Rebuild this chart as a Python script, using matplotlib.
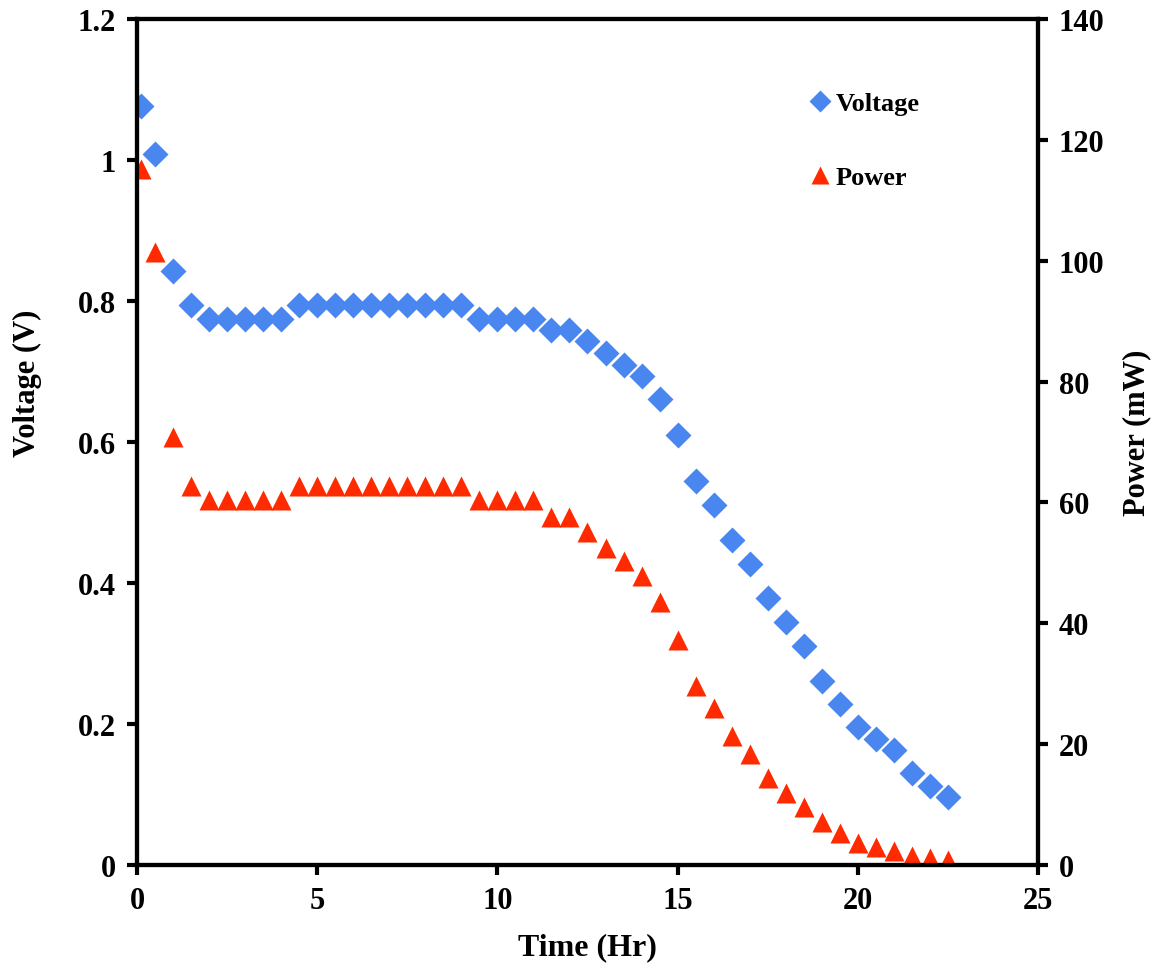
import numpy as np
import matplotlib
matplotlib.use('Agg')
import matplotlib.pyplot as plt

plt.rcParams['font.family'] = ['Liberation Serif', 'DejaVu Serif']
plt.rcParams['font.weight'] = 'bold'

# time (hr)
time = [0.1, 0.5, 1, 1.5, 2, 2.5, 3, 3.5, 4, 4.5, 5, 5.5, 6, 6.5, 7, 7.5, 8, 8.5, 9,
        9.5, 10, 10.5, 11, 11.5, 12, 12.5, 13, 13.5, 14, 14.5, 15, 15.5, 16, 16.5,
        17, 17.5, 18, 18.5, 19, 19.5, 20, 20.5, 21, 21.5, 22, 22.5]

voltage = [1.077, 1.009, 0.843, 0.794, 0.775, 0.775, 0.775, 0.775, 0.775, 0.794,
           0.794, 0.794, 0.794, 0.794, 0.794, 0.794, 0.794, 0.794, 0.794,
           0.775, 0.775, 0.775, 0.775, 0.759, 0.759, 0.743, 0.726, 0.709, 0.694,
           0.661, 0.610, 0.545, 0.511, 0.461, 0.427, 0.379, 0.345, 0.311, 0.261,
           0.228, 0.196, 0.179, 0.163, 0.130, 0.112, 0.096]

power = [115.2, 101.4, 70.8, 62.7, 60.4, 60.4, 60.4, 60.4, 60.4, 62.7,
         62.7, 62.7, 62.7, 62.7, 62.7, 62.7, 62.7, 62.7, 62.7,
         60.4, 60.4, 60.4, 60.4, 57.6, 57.6, 55.1, 52.5, 50.3, 47.8,
         43.5, 37.2, 29.6, 26.0, 21.3, 18.4, 14.4, 11.9, 9.6, 7.1,
         5.3, 3.6, 3.0, 2.3, 1.5, 1.2, 0.8]

fig = plt.figure(figsize=(11.59, 9.78), dpi=100)
ax = fig.add_axes([0.1182, 0.1145, 0.7774, 0.8651])
ax2 = ax.twinx()

ax.plot(time, voltage, 'D', color='#4a86f0', ms=13, mec='none', label='Voltage')
ax2.plot(time, power, '^', color='#ff2a00', ms=15, mec='none', label='Power')

ax.set_xlim(0, 25)
ax.set_ylim(0, 1.2)
ax2.set_ylim(0, 140)
ax.set_xticks([0, 5, 10, 15, 20, 25])
ax.set_yticks([0, 0.2, 0.4, 0.6, 0.8, 1, 1.2])
ax.set_yticklabels(['0', '0.2', '0.4', '0.6', '0.8', '1', '1.2'])
ax2.set_yticks(np.arange(0, 141, 20))

for a in (ax, ax2):
    for s in a.spines.values():
        s.set_linewidth(3)
    a.tick_params(labelsize=22, width=3, length=7, direction='out', pad=8)

ax.set_xlabel('Time (Hr)', fontsize=23, fontweight='bold')
ax.set_ylabel('Voltage (V)', fontsize=22, fontweight='bold')
ax2.set_ylabel('Power (mW)', fontsize=22, fontweight='bold')
ax.xaxis.set_label_coords(0.5, -0.079)
ax.yaxis.set_label_coords(-0.105, 0.571)
ax2.yaxis.set_label_coords(1.094, 0.512)

h1, l1 = ax.get_legend_handles_labels()
h2, l2 = ax2.get_legend_handles_labels()
ax.legend(h1 + h2, l1 + l2, loc='upper right', bbox_to_anchor=(0.895, 0.942),
          frameon=False, fontsize=19, handletextpad=0.0, labelspacing=1.9,
          markerscale=0.9, handlelength=1.2)

fig.savefig('out.png', dpi=100)
